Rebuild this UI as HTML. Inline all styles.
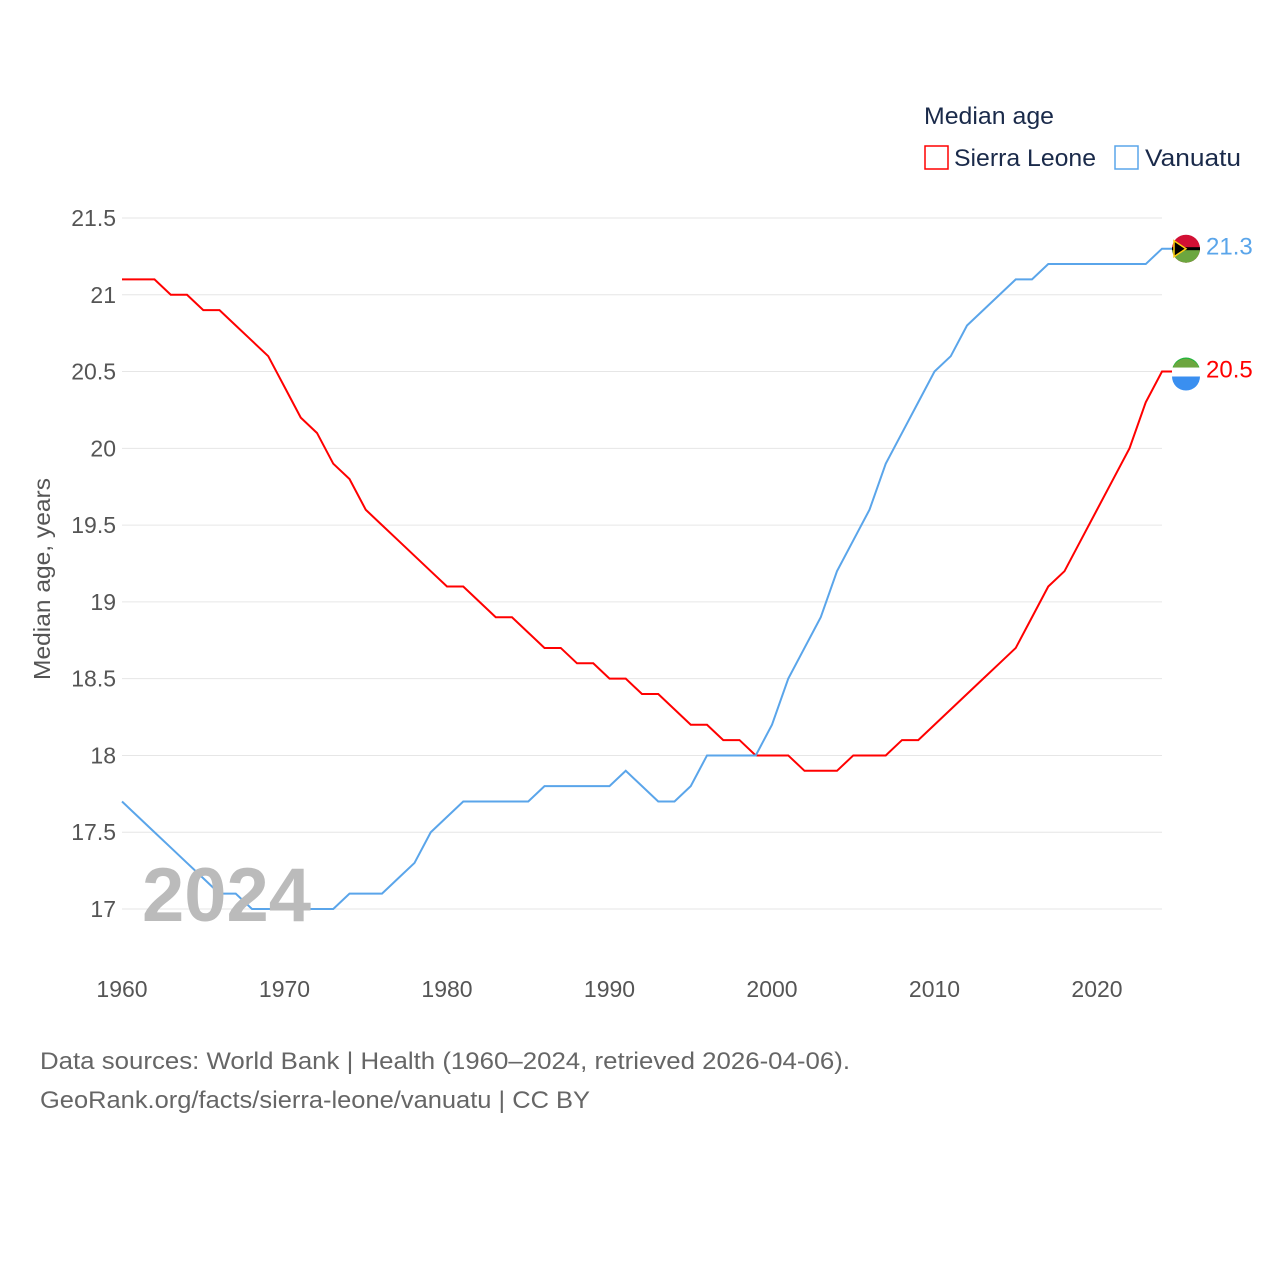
<!DOCTYPE html>
<html><head><meta charset="utf-8"><style>
body{margin:0;background:#fff;font-family:"Liberation Sans",sans-serif}
svg text{font-family:"Liberation Sans",sans-serif}
</style></head><body>
<svg width="1280" height="1280" xmlns="http://www.w3.org/2000/svg">
<g id="grid"></g>
<g id="lines"></g>
<text x="142" y="921" font-size="76" font-weight="bold" fill="#bbb">2024</text>
<text transform="translate(50,579) rotate(-90)" text-anchor="middle" font-size="23" fill="#555" textLength="202" lengthAdjust="spacingAndGlyphs">Median age, years</text>
<text x="924" y="124" font-size="24" fill="#1a2a4a" textLength="130" lengthAdjust="spacingAndGlyphs">Median age</text>
<g><rect x="925" y="146" width="23" height="23" fill="none" stroke="#f00" stroke-width="1.5"/><text x="954" y="166" font-size="24" fill="#1a2a4a" textLength="142" lengthAdjust="spacingAndGlyphs">Sierra Leone</text></g>
<g><rect x="1115" y="146" width="23" height="23" fill="none" stroke="#5aa5ea" stroke-width="1.5"/><text x="1145" y="166" font-size="24" fill="#1a2a4a" textLength="96" lengthAdjust="spacingAndGlyphs">Vanuatu</text></g>
<text x="40" y="1069" font-size="24" fill="#666" textLength="810" lengthAdjust="spacingAndGlyphs">Data sources: World Bank | Health (1960–2024, retrieved 2026-04-06).</text>
<text x="40" y="1108" font-size="24" fill="#666" textLength="550" lengthAdjust="spacingAndGlyphs">GeoRank.org/facts/sierra-leone/vanuatu | CC BY</text>
</svg>
<script>
const years=[];for(let y=1960;y<=2024;y++)years.push(y);
const sierraLeone=[21.1,21.1,21.1,21.0,21.0,20.9,20.9,20.8,20.7,20.6,20.4,20.2,20.1,19.9,19.8,19.6,19.5,19.4,19.3,19.2,19.1,19.1,19.0,18.9,18.9,18.8,18.7,18.7,18.6,18.6,18.5,18.5,18.4,18.4,18.3,18.2,18.2,18.1,18.1,18.0,18.0,18.0,17.9,17.9,17.9,18.0,18.0,18.0,18.1,18.1,18.2,18.3,18.4,18.5,18.6,18.7,18.9,19.1,19.2,19.4,19.6,19.8,20.0,20.3,20.5];
const vanuatu=[17.7,17.6,17.5,17.4,17.3,17.2,17.1,17.1,17.0,17.0,17.0,17.0,17.0,17.0,17.1,17.1,17.1,17.2,17.3,17.5,17.6,17.7,17.7,17.7,17.7,17.7,17.8,17.8,17.8,17.8,17.8,17.9,17.8,17.7,17.7,17.8,18.0,18.0,18.0,18.0,18.2,18.5,18.7,18.9,19.2,19.4,19.6,19.9,20.1,20.3,20.5,20.6,20.8,20.9,21.0,21.1,21.1,21.2,21.2,21.2,21.2,21.2,21.2,21.2,21.3];
const yTicks=[17,17.5,18,18.5,19,19.5,20,20.5,21,21.5];
const yTickLabels=["17","17.5","18","18.5","19","19.5","20","20.5","21","21.5"];
const xTicks=[1960,1970,1980,1990,2000,2010,2020];
const NS="http://www.w3.org/2000/svg";
const X=y=>122+(y-1960)*16.25;
const Y=v=>909-(v-17)*153.56;
const grid=document.getElementById('grid'),lines=document.getElementById('lines');
function mk(t,a,p){const e=document.createElementNS(NS,t);for(const k in a)e.setAttribute(k,a[k]);p.appendChild(e);return e;}
yTicks.forEach((v,i)=>{
 const l=mk('line',{x1:122,x2:1162,y1:Y(v),y2:Y(v),stroke:'#e6e6e6','stroke-width':1},grid);
 
 
 const t=mk('text',{x:116,y:Y(v)+8,'text-anchor':'end','font-size':23,fill:'#555'},grid);t.textContent=yTickLabels[i];
 
 
});
xTicks.forEach(v=>{
 const t=mk('text',{x:X(v),y:997,'text-anchor':'middle','font-size':23,fill:'#555'},grid);t.textContent=v;
 
 
});
function series(vals,col,name,lab){
 let d=vals.map((v,i)=>(i?'L':'M')+X(years[i])+' '+Y(v)).join(' ');
 d+=' L1172 '+Y(vals[vals.length-1]);
 const p=mk('path',{d:d,fill:'none',stroke:col,'stroke-width':2},lines);
 
 
 const yy=Y(vals[vals.length-1]);
 const c=mk('circle',{cx:1186,cy:yy,r:14,fill:name==='vanuatu'?'#d21034':'#1eb53a'},lines);
 
 
 if(name==='vanuatu'){mk('path',{d:`M1172 ${yy} A14 14 0 0 0 1200 ${yy} Z`,fill:'#6ca63f'},lines);mk('rect',{x:1172,y:yy-1.5,width:28,height:3,fill:'#000'},lines);mk('path',{d:`M1174 ${yy-8} L1186 ${yy} L1174 ${yy+8} Z`,fill:'#000',stroke:'#fdce12','stroke-width':1.5},lines);}
 else{mk('rect',{x:1172,y:yy-4,width:28,height:9,fill:'#fff'},lines);mk('path',{d:`M1172 ${yy+5} L1200 ${yy+5} A14 14 0 0 1 1172 ${yy+5} Z`,fill:'#3a8ff0'},lines);mk('path',{d:`M1173 ${yy-4} A14 14 0 0 1 1199 ${yy-4} Z`,fill:'#6ca63f'},lines);}
 const t=mk('text',{x:1206,y:yy+6,'font-size':24,fill:col},lines);t.textContent=lab;
 
 
}
series(sierraLeone,'#f00','sierra-leone','20.5');
series(vanuatu,'#5aa5ea','vanuatu','21.3');
</script>
</body></html>
